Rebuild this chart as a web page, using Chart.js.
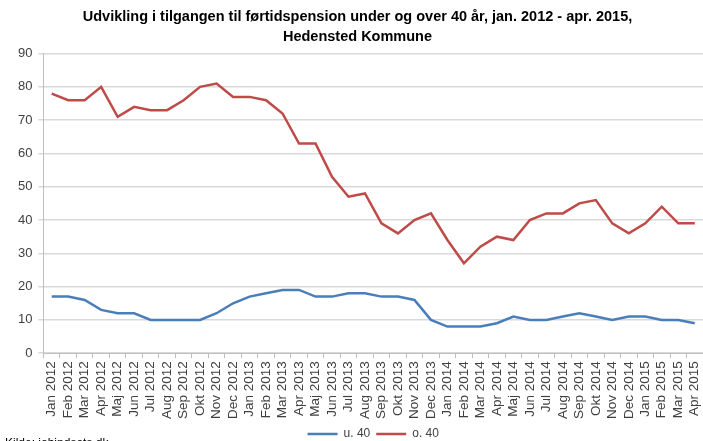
<!DOCTYPE html>
<html>
<head>
<meta charset="utf-8">
<script src="https://cdn.jsdelivr.net/npm/chart.js@4/dist/chart.umd.min.js"></script>
<style>
  body { margin: 0; background: #fff; }
</style>
</head>
<body>
<canvas id="chart" width="703" height="441"></canvas>
<script>
const months = ['Jan 2012', 'Feb 2012', 'Mar 2012', 'Apr 2012', 'Maj 2012', 'Jun 2012', 'Jul 2012', 'Aug 2012', 'Sep 2012', 'Okt 2012', 'Nov 2012', 'Dec 2012',
    'Jan 2013', 'Feb 2013', 'Mar 2013', 'Apr 2013', 'Maj 2013', 'Jun 2013', 'Jul 2013', 'Aug 2013', 'Sep 2013', 'Okt 2013', 'Nov 2013', 'Dec 2013',
    'Jan 2014', 'Feb 2014', 'Mar 2014', 'Apr 2014', 'Maj 2014', 'Jun 2014', 'Jul 2014', 'Aug 2014', 'Sep 2014', 'Okt 2014', 'Nov 2014', 'Dec 2014',
    'Jan 2015', 'Feb 2015', 'Mar 2015', 'Apr 2015'];
const under40 = [17, 17, 16, 13, 12, 12, 10, 10, 10, 10, 12, 15, 17, 18, 19, 19, 17, 17, 18, 18,
    17, 17, 16, 10, 8, 8, 8, 9, 11, 10, 10, 11, 12, 11, 10, 11, 11, 10, 10, 9];
const over40 = [78, 76, 76, 80, 71, 74, 73, 73, 76, 80, 81, 77, 77, 76, 72, 63, 63, 53, 47, 48,
    39, 36, 40, 42, 34, 27, 32, 35, 34, 40, 42, 42, 45, 46, 39, 36, 39, 44, 39, 39];
const titleLines = ['Udvikling i tilgangen til førtidspension under og over 40 år, jan. 2012 - apr. 2015,', 'Hedensted Kommune'];
const sourceText = 'Kilde: jobindsats.dk';

const font = "'Liberation Sans', Arial, sans-serif";

const sourcePlugin = {
    id: 'source',
    afterDraw(chart) {
        const c = chart.ctx;
        c.save();
        c.font = '12px ' + font;
        c.fillStyle = '#000';
        c.textBaseline = 'alphabetic';
        c.fillText(sourceText, 5, 447);
        c.restore();
    }
};

new Chart(document.getElementById('chart').getContext('2d'), {
    type: 'line',
    data: {
        labels: months,
        datasets: [{
            label: 'u. 40',
            data: under40,
            borderColor: '#4a7ebb',
            backgroundColor: '#4a7ebb',
            borderWidth: 2.5,
            pointRadius: 0,
            tension: 0
        }, {
            label: 'o. 40',
            data: over40,
            borderColor: '#be4b48',
            backgroundColor: '#be4b48',
            borderWidth: 2.5,
            pointRadius: 0,
            tension: 0
        }]
    },
    options: {
        responsive: false,
        animation: false,
        layout: { padding: { left: 12, right: 0, top: 0, bottom: -9 } },
        plugins: {
            title: {
                display: true,
                text: titleLines,
                color: '#000',
                font: { family: font, size: 14.5, weight: 'bold', lineHeight: 1.4 },
                padding: { top: 7, bottom: 6 }
            },
            legend: {
                position: 'bottom',
                fullSize: false,
                labels: {
                    usePointStyle: true,
                    pointStyle: 'line',
                    pointStyleWidth: 30,
                    color: '#404040',
                    font: { family: font, size: 12 },
                    padding: 6
                }
            },
            tooltip: { enabled: false }
        },
        scales: {
            x: {
                offset: true,
                afterFit(scale) {
                    scale.paddingRight = -3;
                },
                grid: {
                    offset: true,
                    drawOnChartArea: false,
                    tickLength: 5,
                    color: '#bfbfbf'
                },
                border: { color: '#bfbfbf' },
                ticks: {
                    autoSkip: false,
                    maxRotation: 90,
                    minRotation: 90,
                    color: '#404040',
                    font: { family: font, size: 13.5 },
                    padding: 3
                }
            },
            y: {
                min: 0,
                max: 90,
                grid: {
                    color: '#d9d9d9',
                    lineWidth: 1.5,
                    tickLength: 5
                },
                border: { color: '#bfbfbf' },
                ticks: {
                    stepSize: 10,
                    color: '#404040',
                    font: { family: font, size: 13 },
                    padding: 6
                }
            }
        }
    },
    plugins: [sourcePlugin]
});
</script>
</body>
</html>
